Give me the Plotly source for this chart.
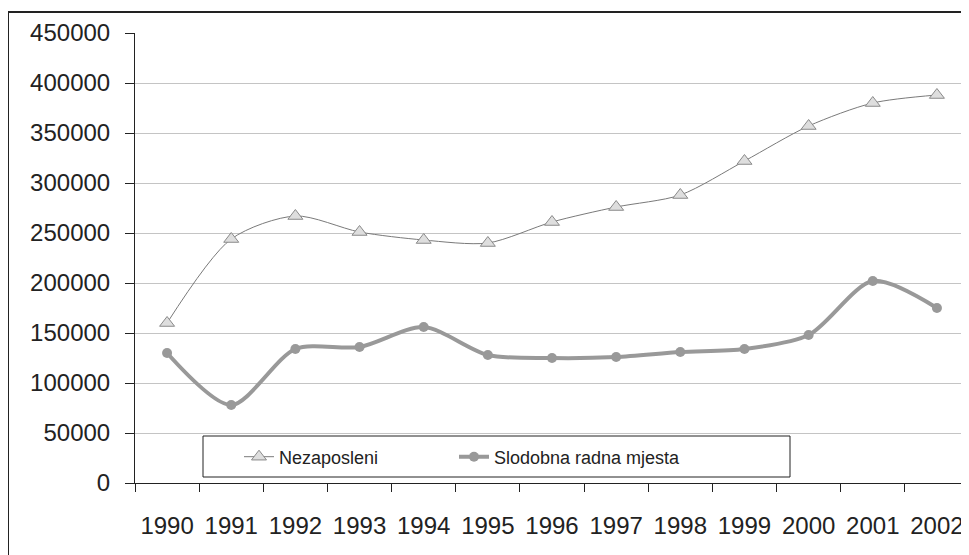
import plotly.graph_objects as go

years = ["1990", "1991", "1992", "1993", "1994", "1995", "1996",
         "1997", "1998", "1999", "2000", "2001", "2002"]
nezaposleni = [160000, 244000, 267000, 251000, 243000, 240000, 261000,
               276000, 288000, 322000, 357000, 380000, 388000]
slobodna = [130000, 78000, 134000, 136000, 156000, 128000, 125000,
            126000, 131000, 134000, 148000, 202000, 175000]
y_ticks = [0, 50000, 100000, 150000, 200000, 250000, 300000, 350000, 400000, 450000]

# page body has an 8px default margin; figure sized to fill the rest
OFF = 8
W, H = 969 - OFF, 555 - OFF
PLOT_L, PLOT_R, PLOT_T, PLOT_B = 135, 969, 33, 483  # page coords
ML = PLOT_L - OFF
MR = 969 - PLOT_R
MT = PLOT_T - OFF
MB = H - (PLOT_B - OFF)
pw, ph = PLOT_R - PLOT_L, PLOT_B - PLOT_T

def px_x(x):
    return (x - PLOT_L) / pw

def px_y(y):
    return (PLOT_B - y) / ph

fig = go.Figure()
fig.add_trace(go.Scatter(
    x=years, y=nezaposleni, name="Nezaposleni", mode="lines+markers",
    legend="legend",
    line=dict(color="#7a7a7a", width=1, shape="spline", smoothing=0.8),
    marker=dict(symbol="triangle-up", size=13, color="#dedede",
                line=dict(color="#8a8a8a", width=1)),
))
fig.add_trace(go.Scatter(
    x=years, y=slobodna, name="Slodobna radna mjesta", mode="lines+markers",
    legend="legend2",
    line=dict(color="#999999", width=4, shape="spline", smoothing=0.8),
    marker=dict(symbol="circle", size=10, color="#999999"),
))

# outer chart frame
fig.add_shape(type="rect", xref="paper", yref="paper",
              x0=px_x(8), x1=px_x(990), y0=px_y(12), y1=px_y(580),
              line=dict(color="#222222", width=2), fillcolor="rgba(0,0,0,0)",
              layer="below")
# legend box
fig.add_shape(type="rect", xref="paper", yref="paper",
              x0=px_x(203), x1=px_x(790), y0=px_y(436), y1=px_y(477),
              line=dict(color="#222222", width=1), fillcolor="white",
              layer="above")

leg_common = dict(
    orientation="h", yanchor="middle", xanchor="left",
    bgcolor="rgba(0,0,0,0)", borderwidth=0,
    font=dict(size=18, color="#222222"),
)

fig.update_layout(
    width=W, height=H,
    margin=dict(l=ML, r=MR, t=MT, b=MB, autoexpand=False),
    paper_bgcolor="white", plot_bgcolor="white",
    font=dict(family="Liberation Sans, Arial, sans-serif", color="#222222"),
    showlegend=True,
    legend=dict(x=px_x(239), y=px_y(457), **leg_common),
    legend2=dict(x=px_x(454), y=px_y(457), **leg_common),
    xaxis=dict(
        type="category", categoryorder="array", categoryarray=years,
        tickvals=years, ticktext=years,
        range=[-0.5, 12.5], showgrid=False, automargin=False,
        showline=True, linecolor="#222222", linewidth=1,
        ticks="outside", tickson="boundaries", ticklen=8, tickcolor="#222222",
        tickfont=dict(size=24, color="#222222"), ticklabelstandoff=21,
        zeroline=False,
    ),
    yaxis=dict(
        range=[0, 450000], tickvals=y_ticks, automargin=False,
        ticktext=[str(v) for v in y_ticks],
        showgrid=True, gridcolor="#c4c4c4", gridwidth=1,
        showline=True, linecolor="#222222", linewidth=1,
        ticks="outside", ticklen=9, tickcolor="#222222",
        tickfont=dict(size=24, color="#222222"), ticklabelstandoff=10,
        zeroline=False,
    ),
)

fig.write_html("out.html")
